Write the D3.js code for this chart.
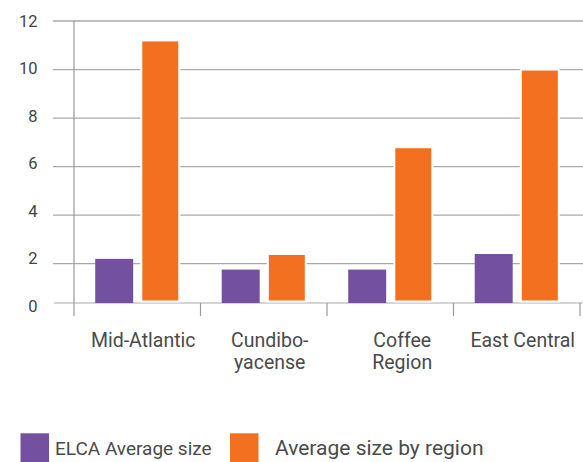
<!DOCTYPE html>
<html>
<head>
<meta charset="utf-8">
<script src="https://cdn.jsdelivr.net/npm/d3@7"></script>
<style>
  html, body { margin: 0; padding: 0; background: #fff; }
  svg { display: block; font-family: Roboto, "Open Sans", sans-serif; }
</style>
</head>
<body>
<svg id="chart" width="583" height="462"></svg>
<script>
// Regions (label lines) and the two series
const categories = ["Mid-Atlantic", "Cundiboyacense", "Coffee Region", "East Central"];
const categoryLines = [["Mid-Atlantic"], ["Cundibo-", "yacense"], ["Coffee", "Region"], ["East Central"]];
const seriesNames = ["ELCA Average size", "Average size by region"];
const elcaAverage = [2.2, 1.7, 1.7, 2.4];
const regionAverage = [11.2, 2.4, 6.8, 10.0];
const yTicks = [0, 2, 4, 6, 8, 10, 12];

const colors = ["#7451a0", "#f37021"];
const svg = d3.select("#chart");

// Value axis: 0 sits on the baseline, 2..12 evenly spaced above it
const y = d3.scaleLinear().domain([0, 2, 12]).range([303, 263.7, 21]);
// Tick labels are spread evenly down the axis
const yLabel = d3.scaleLinear().domain([0, 12]).range([306, 21]);

const x0 = d3.scaleBand().domain(categories).range([74, 580]).paddingInner(0).paddingOuter(0);
const x1 = d3.scaleBand().domain(seriesNames).range([0, x0.bandwidth()])
  .paddingInner(0.176).paddingOuter(0.46);

// Horizontal gridlines
svg.append("g").selectAll("line")
  .data(yTicks.filter(d => d > 0))
  .join("line")
  .attr("x1", 53).attr("x2", 583)
  .attr("y1", d => y(d)).attr("y2", d => y(d))
  .attr("stroke", "#aaaaaa").attr("stroke-width", d => d === 12 ? 1.6 : 1.2);

// Baseline
svg.append("line")
  .attr("x1", 54).attr("x2", 583)
  .attr("y1", y(0)).attr("y2", y(0))
  .attr("stroke", "#aaaaaa").attr("stroke-width", 1.2);

// Vertical value axis line
svg.append("line")
  .attr("x1", 74).attr("x2", 74)
  .attr("y1", y(12)).attr("y2", 316)
  .attr("stroke", "#999999").attr("stroke-width", 1.2);

// Category separators below the baseline
const bounds = categories.map(c => x0(c)).concat([x0(categories[categories.length - 1]) + x0.bandwidth()]);
svg.append("g").selectAll("line")
  .data(bounds.slice(1))
  .join("line")
  .attr("x1", d => d).attr("x2", d => d)
  .attr("y1", y(0)).attr("y2", 316)
  .attr("stroke", "#999999").attr("stroke-width", 1.2);

// Y tick labels
svg.append("g").selectAll("text")
  .data(yTicks)
  .join("text")
  .attr("x", 37.5).attr("y", d => yLabel(d))
  .attr("dy", "0.36em")
  .attr("text-anchor", "end")
  .attr("font-size", 16.5)
  .attr("fill", "#444")
  .text(d => d);

// Bars
const rows = categories.map((c, i) => ({ cat: c, values: [elcaAverage[i], regionAverage[i]] }));
const groups = svg.append("g").selectAll("g")
  .data(rows)
  .join("g")
  .attr("transform", d => `translate(${x0(d.cat)},0)`);

groups.selectAll("rect")
  .data(d => d.values.map((v, j) => ({ key: seriesNames[j], v, j })))
  .join("rect")
  .attr("x", d => x1(d.key))
  .attr("width", x1.bandwidth())
  .attr("y", d => y(d.v))
  .attr("height", d => y(0) - y(d.v) - (d.j === 1 ? 1.5 : 0))
  .attr("fill", d => colors[d.j])
  .attr("stroke", d => d.j === 1 ? "#ffffff" : "none")
  .attr("stroke-width", 2);

// Category labels, one text element per line
const labelLines = [];
categories.forEach((c, i) => {
  categoryLines[i].forEach((line, k) => {
    labelLines.push({ c, i, k, line });
  });
});
svg.append("g").selectAll("text")
  .data(labelLines)
  .join("text")
  .attr("x", d => x0(d.c) + x0.bandwidth() / 2 + (d.i === 2 ? 12 : 6))
  .attr("y", d => 347 + d.k * 22)
  .attr("text-anchor", "middle")
  .attr("font-size", 19.5)
  .attr("fill", "#4a4a4a")
  .text(d => d.line);

// Legend
const legendItems = [
  { name: seriesNames[0], color: colors[0], sx: 20.5, tx: 55, size: 19 },
  { name: seriesNames[1], color: colors[1], sx: 230, tx: 275, size: 21 }
];
const legend = svg.append("g").selectAll("g").data(legendItems).join("g");
legend.append("rect")
  .attr("x", d => d.sx).attr("y", 433.3)
  .attr("width", 28.5).attr("height", 30)
  .attr("fill", d => d.color);
legend.append("text")
  .attr("x", d => d.tx).attr("y", 455)
  .attr("font-size", d => d.size)
  .attr("fill", "#4a4a4a")
  .text(d => d.name);
</script>
</body>
</html>
